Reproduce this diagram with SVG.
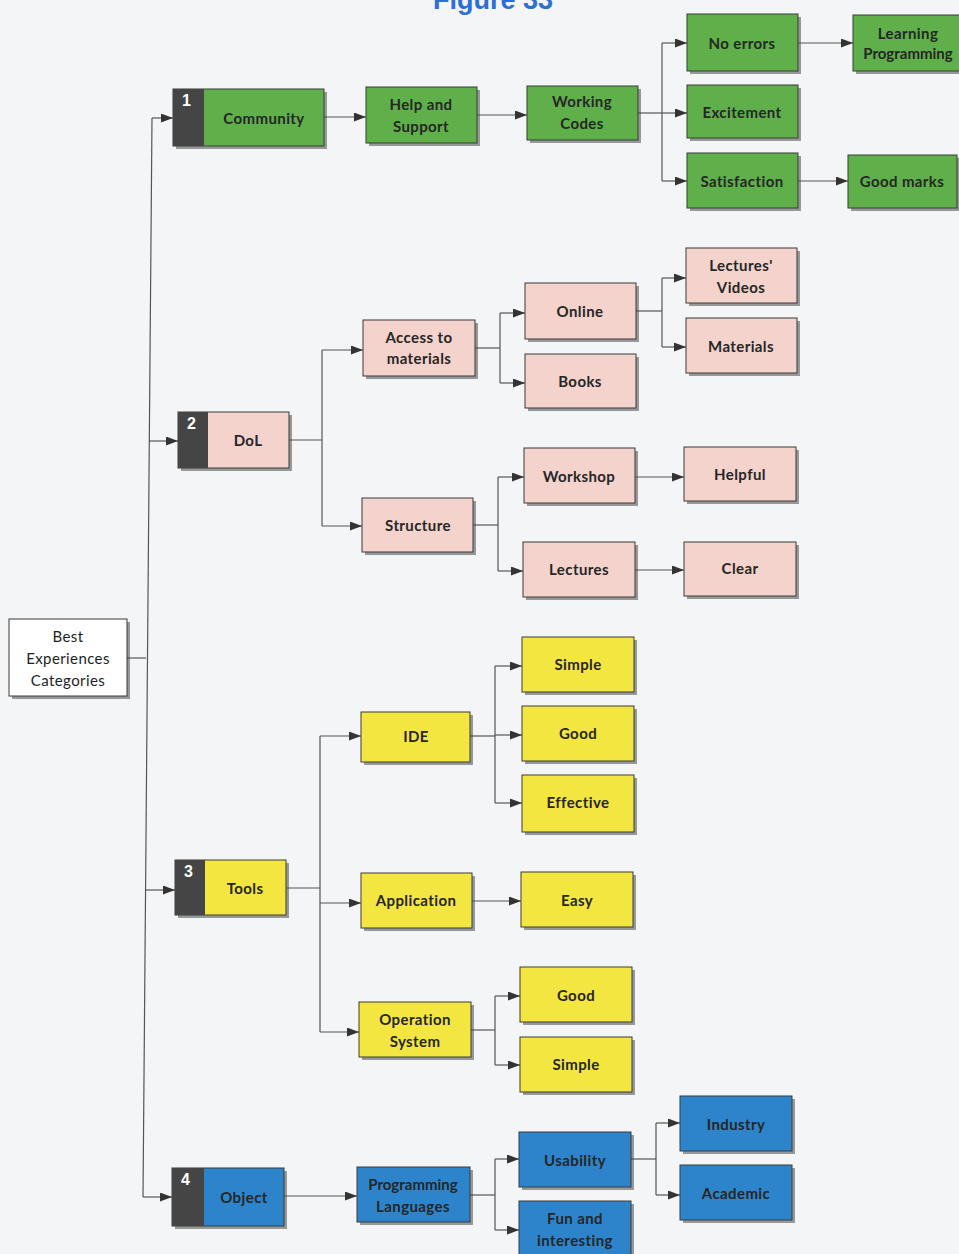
<svg xmlns="http://www.w3.org/2000/svg" width="959" height="1254" viewBox="0 0 959 1254">
<defs>
<marker id="ah" markerUnits="userSpaceOnUse" markerWidth="13" markerHeight="10" refX="12" refY="4.5" orient="auto">
<path d="M0,0 L12,4.5 L0,9 z" fill="#333"/>
</marker>
<style>
.sh{fill:#4a4a4a;opacity:0.55}
.bx{stroke:#3a3a3a;stroke-width:1}
.g{fill:#5fb04b}
.p{fill:#f3d3cc}
.y{fill:#f4e640}
.b{fill:#2d84cb}
.w{fill:#ffffff}
.tab{fill:#454545}
.t{font-family:Lato,"Liberation Sans",sans-serif;font-size:15px;letter-spacing:0.4px;font-weight:bold;fill:#262626;text-anchor:middle;dominant-baseline:central}
.tn{font-weight:normal;fill:#1e1e1e}
.num{font-family:"Liberation Sans",Arial,sans-serif;font-size:16px;font-weight:bold;fill:#ffffff}
.c{fill:none;stroke:#555;stroke-width:1.2}
.ca{fill:none;stroke:#555;stroke-width:1.2;marker-end:url(#ah)}
.fig{font-family:"Liberation Sans",Arial,sans-serif;font-size:27px;font-weight:bold;fill:#2b6fd8;text-anchor:middle}
</style>
</defs>
<rect width="959" height="1254" fill="#f4f5f7"/>
<text class="fig" x="493" y="9">Figure 33</text>

<g id="connectors">
<line class="c" x1="152" y1="118" x2="143" y2="1197"/>
<line class="c" x1="127" y1="658" x2="146" y2="658"/>
<line class="ca" x1="152" y1="118" x2="173" y2="118"/>
<line class="ca" x1="149" y1="441" x2="178" y2="441"/>
<line class="ca" x1="145" y1="890" x2="175" y2="890"/>
<line class="ca" x1="143" y1="1197" x2="172" y2="1197"/>
<line class="ca" x1="324" y1="117" x2="366" y2="117"/>
<line class="ca" x1="477" y1="115" x2="527" y2="115"/>
<line class="c" x1="638" y1="113" x2="662" y2="113"/>
<line class="c" x1="662" y1="43" x2="662" y2="181"/>
<line class="ca" x1="662" y1="43" x2="687" y2="43"/>
<line class="ca" x1="662" y1="113" x2="687" y2="113"/>
<line class="ca" x1="662" y1="181" x2="687" y2="181"/>
<line class="ca" x1="798" y1="43" x2="853" y2="43"/>
<line class="ca" x1="798" y1="181" x2="848" y2="181"/>
<line class="c" x1="289" y1="440" x2="322" y2="440"/>
<line class="c" x1="322" y1="350" x2="322" y2="526"/>
<line class="ca" x1="322" y1="350" x2="363" y2="350"/>
<line class="ca" x1="322" y1="526" x2="362" y2="526"/>
<line class="c" x1="475" y1="348" x2="500" y2="348"/>
<line class="c" x1="500" y1="313" x2="500" y2="383"/>
<line class="ca" x1="500" y1="313" x2="525" y2="313"/>
<line class="ca" x1="500" y1="383" x2="525" y2="383"/>
<line class="c" x1="636" y1="311" x2="662" y2="311"/>
<line class="c" x1="662" y1="278" x2="662" y2="347"/>
<line class="ca" x1="662" y1="278" x2="686" y2="278"/>
<line class="ca" x1="662" y1="347" x2="686" y2="347"/>
<line class="c" x1="473" y1="525" x2="498" y2="525"/>
<line class="c" x1="498" y1="477" x2="498" y2="571"/>
<line class="ca" x1="498" y1="477" x2="524" y2="477"/>
<line class="ca" x1="498" y1="571" x2="523" y2="571"/>
<line class="ca" x1="635" y1="477" x2="684" y2="477"/>
<line class="ca" x1="635" y1="570" x2="684" y2="570"/>
<line class="c" x1="286" y1="888" x2="320" y2="888"/>
<line class="c" x1="320" y1="736" x2="320" y2="1032"/>
<line class="ca" x1="320" y1="736" x2="361" y2="736"/>
<line class="ca" x1="320" y1="903" x2="361" y2="903"/>
<line class="ca" x1="320" y1="1032" x2="359" y2="1032"/>
<line class="c" x1="470" y1="736" x2="495" y2="736"/>
<line class="c" x1="495" y1="666" x2="495" y2="803"/>
<line class="ca" x1="495" y1="666" x2="522" y2="666"/>
<line class="ca" x1="495" y1="735" x2="522" y2="735"/>
<line class="ca" x1="495" y1="803" x2="522" y2="803"/>
<line class="ca" x1="472" y1="901" x2="521" y2="901"/>
<line class="c" x1="471" y1="1030" x2="495" y2="1030"/>
<line class="c" x1="495" y1="996" x2="495" y2="1065"/>
<line class="ca" x1="495" y1="996" x2="520" y2="996"/>
<line class="ca" x1="495" y1="1065" x2="520" y2="1065"/>
<line class="ca" x1="284" y1="1196" x2="357" y2="1196"/>
<line class="c" x1="470" y1="1195" x2="495" y2="1195"/>
<line class="c" x1="495" y1="1159" x2="495" y2="1230"/>
<line class="ca" x1="495" y1="1159" x2="519" y2="1159"/>
<line class="ca" x1="495" y1="1230" x2="519" y2="1230"/>
<line class="c" x1="631" y1="1159" x2="656" y2="1159"/>
<line class="c" x1="656" y1="1123" x2="656" y2="1195"/>
<line class="ca" x1="656" y1="1123" x2="680" y2="1123"/>
<line class="ca" x1="656" y1="1195" x2="680" y2="1195"/>
</g>

<g id="root">
<rect class="sh" x="12" y="622" width="118" height="77"/>
<rect class="bx w" x="9" y="619" width="118" height="77" stroke="#777"/>
<text class="t tn" x="68" y="636">Best</text>
<text class="t tn" x="68" y="658">Experiences</text>
<text class="t tn" x="68" y="680">Categories</text>
</g>

<g id="community">
<rect class="sh" x="176" y="92" width="151" height="57"/>
<rect class="bx g" x="173" y="89" width="151" height="57"/>
<rect class="tab" x="173" y="89" width="31" height="57"/>
<text class="num" x="182" y="106">1</text>
<text class="t" x="264" y="118">Community</text>
</g>
<g id="help">
<rect class="sh" x="369" y="90" width="111" height="56"/>
<rect class="bx g" x="366" y="87" width="111" height="56"/>
<text class="t" x="421" y="104">Help and</text>
<text class="t" x="421" y="126">Support</text>
</g>
<g id="working">
<rect class="sh" x="530" y="89" width="111" height="54"/>
<rect class="bx g" x="527" y="86" width="111" height="54"/>
<text class="t" x="582" y="101">Working</text>
<text class="t" x="582" y="123">Codes</text>
</g>
<g id="noerrors">
<rect class="sh" x="690" y="17" width="111" height="57"/>
<rect class="bx g" x="687" y="14" width="111" height="57"/>
<text class="t" x="742" y="43">No errors</text>
</g>
<g id="excitement">
<rect class="sh" x="690" y="88" width="111" height="53"/>
<rect class="bx g" x="687" y="85" width="111" height="53"/>
<text class="t" x="742" y="112">Excitement</text>
</g>
<g id="satisfaction">
<rect class="sh" x="690" y="156" width="111" height="55"/>
<rect class="bx g" x="687" y="153" width="111" height="55"/>
<text class="t" x="742" y="181">Satisfaction</text>
</g>
<g id="learning">
<rect class="sh" x="856" y="18" width="111" height="56"/>
<rect class="bx g" x="853" y="15" width="111" height="56"/>
<text class="t" x="908" y="33">Learning</text>
<text class="t" x="908" y="53" style="letter-spacing:0">Programming</text>
</g>
<g id="goodmarks">
<rect class="sh" x="851" y="158" width="109" height="53"/>
<rect class="bx g" x="848" y="155" width="109" height="53"/>
<text class="t" x="902" y="181">Good marks</text>
</g>

<g id="dol">
<rect class="sh" x="181" y="415" width="111" height="56"/>
<rect class="bx p" x="178" y="412" width="111" height="56"/>
<rect class="tab" x="178" y="412" width="30" height="56"/>
<text class="num" x="187" y="429">2</text>
<text class="t" x="248" y="440">DoL</text>
</g>
<g id="access">
<rect class="sh" x="366" y="323" width="112" height="56"/>
<rect class="bx p" x="363" y="320" width="112" height="56"/>
<text class="t" x="419" y="337">Access to</text>
<text class="t" x="419" y="358">materials</text>
</g>
<g id="structure">
<rect class="sh" x="365" y="501" width="111" height="54"/>
<rect class="bx p" x="362" y="498" width="111" height="54"/>
<text class="t" x="418" y="525">Structure</text>
</g>
<g id="online">
<rect class="sh" x="528" y="286" width="111" height="56"/>
<rect class="bx p" x="525" y="283" width="111" height="56"/>
<text class="t" x="580" y="311">Online</text>
</g>
<g id="books">
<rect class="sh" x="528" y="357" width="111" height="54"/>
<rect class="bx p" x="525" y="354" width="111" height="54"/>
<text class="t" x="580" y="381">Books</text>
</g>
<g id="lecvideos">
<rect class="sh" x="689" y="251" width="111" height="55"/>
<rect class="bx p" x="686" y="248" width="111" height="55"/>
<text class="t" x="741" y="265">Lectures'</text>
<text class="t" x="741" y="287">Videos</text>
</g>
<g id="materials">
<rect class="sh" x="689" y="321" width="111" height="55"/>
<rect class="bx p" x="686" y="318" width="111" height="55"/>
<text class="t" x="741" y="346">Materials</text>
</g>
<g id="workshop">
<rect class="sh" x="527" y="451" width="111" height="55"/>
<rect class="bx p" x="524" y="448" width="111" height="55"/>
<text class="t" x="579" y="476">Workshop</text>
</g>
<g id="helpful">
<rect class="sh" x="687" y="450" width="112" height="54"/>
<rect class="bx p" x="684" y="447" width="112" height="54"/>
<text class="t" x="740" y="474">Helpful</text>
</g>
<g id="lectures">
<rect class="sh" x="526" y="545" width="112" height="55"/>
<rect class="bx p" x="523" y="542" width="112" height="55"/>
<text class="t" x="579" y="569">Lectures</text>
</g>
<g id="clear">
<rect class="sh" x="687" y="545" width="112" height="54"/>
<rect class="bx p" x="684" y="542" width="112" height="54"/>
<text class="t" x="740" y="568">Clear</text>
</g>

<g id="tools">
<rect class="sh" x="178" y="863" width="111" height="55"/>
<rect class="bx y" x="175" y="860" width="111" height="55"/>
<rect class="tab" x="175" y="860" width="30" height="55"/>
<text class="num" x="184" y="877">3</text>
<text class="t" x="245" y="888">Tools</text>
</g>
<g id="ide">
<rect class="sh" x="364" y="715" width="109" height="50"/>
<rect class="bx y" x="361" y="712" width="109" height="50"/>
<text class="t" x="416" y="736">IDE</text>
</g>
<g id="application">
<rect class="sh" x="364" y="876" width="111" height="55"/>
<rect class="bx y" x="361" y="873" width="111" height="55"/>
<text class="t" x="416" y="900">Application</text>
</g>
<g id="os">
<rect class="sh" x="362" y="1005" width="112" height="55"/>
<rect class="bx y" x="359" y="1002" width="112" height="55"/>
<text class="t" x="415" y="1019">Operation</text>
<text class="t" x="415" y="1041">System</text>
</g>
<g id="simple1">
<rect class="sh" x="525" y="640" width="112" height="55"/>
<rect class="bx y" x="522" y="637" width="112" height="55"/>
<text class="t" x="578" y="664">Simple</text>
</g>
<g id="good1">
<rect class="sh" x="525" y="709" width="112" height="55"/>
<rect class="bx y" x="522" y="706" width="112" height="55"/>
<text class="t" x="578" y="733">Good</text>
</g>
<g id="effective">
<rect class="sh" x="525" y="778" width="112" height="57"/>
<rect class="bx y" x="522" y="775" width="112" height="57"/>
<text class="t" x="578" y="802">Effective</text>
</g>
<g id="easy">
<rect class="sh" x="524" y="875" width="112" height="55"/>
<rect class="bx y" x="521" y="872" width="112" height="55"/>
<text class="t" x="577" y="900">Easy</text>
</g>
<g id="good2">
<rect class="sh" x="523" y="970" width="112" height="55"/>
<rect class="bx y" x="520" y="967" width="112" height="55"/>
<text class="t" x="576" y="995">Good</text>
</g>
<g id="simple2">
<rect class="sh" x="523" y="1040" width="112" height="55"/>
<rect class="bx y" x="520" y="1037" width="112" height="55"/>
<text class="t" x="576" y="1064">Simple</text>
</g>

<g id="object">
<rect class="sh" x="175" y="1171" width="112" height="58"/>
<rect class="bx b" x="172" y="1168" width="112" height="58"/>
<rect class="tab" x="172" y="1168" width="32" height="58"/>
<text class="num" x="181" y="1185">4</text>
<text class="t" x="244" y="1197">Object</text>
</g>
<g id="pl">
<rect class="sh" x="360" y="1170" width="113" height="55"/>
<rect class="bx b" x="357" y="1167" width="113" height="55"/>
<text class="t" x="413" y="1184" style="letter-spacing:0">Programming</text>
<text class="t" x="413" y="1206">Languages</text>
</g>
<g id="usability">
<rect class="sh" x="522" y="1135" width="112" height="55"/>
<rect class="bx b" x="519" y="1132" width="112" height="55"/>
<text class="t" x="575" y="1160">Usability</text>
</g>
<g id="fun">
<rect class="sh" x="522" y="1204" width="112" height="55"/>
<rect class="bx b" x="519" y="1201" width="112" height="55"/>
<text class="t" x="575" y="1218">Fun and</text>
<text class="t" x="575" y="1240">interesting</text>
</g>
<g id="industry">
<rect class="sh" x="683" y="1099" width="112" height="55"/>
<rect class="bx b" x="680" y="1096" width="112" height="55"/>
<text class="t" x="736" y="1124">Industry</text>
</g>
<g id="academic">
<rect class="sh" x="683" y="1168" width="112" height="55"/>
<rect class="bx b" x="680" y="1165" width="112" height="55"/>
<text class="t" x="736" y="1193">Academic</text>
</g>
</svg>
